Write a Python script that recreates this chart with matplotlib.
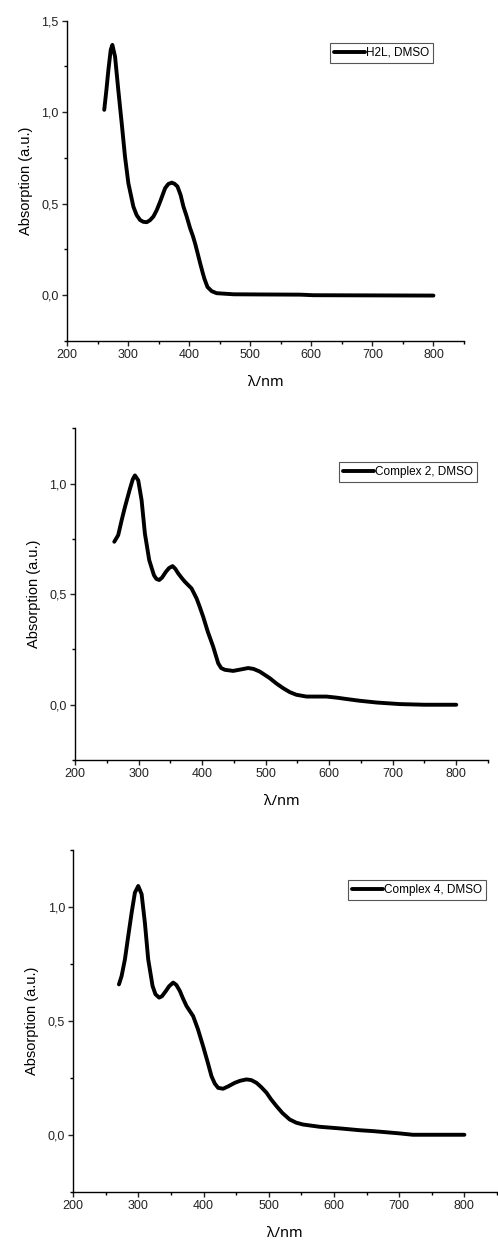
#   UV-Vis absorption spectra in DMSO
#   three stacked panels: H2L, complex 2, complex 4

import matplotlib
matplotlib.use('Agg')
from matplotlib import pyplot as plt
from matplotlib.ticker import MultipleLocator, FuncFormatter

#   Data (wavelength in nm, absorption in a.u.)
wl_h2l = [261, 264.5, 267.8, 271.6, 274.3, 278.7, 284, 289.6, 295, 300.5,
          308.7, 314, 319.7, 325, 330.6, 336, 341.5, 347, 352.5, 360.7, 366,
          371.6, 376, 380.9, 386, 390.7, 396, 401.6, 406, 410, 414, 418, 422,
          425, 430, 437, 445, 473, 520, 582, 603, 700, 800]
ab_h2l = [1.013, 1.12, 1.231, 1.34, 1.368, 1.304, 1.122, 0.94, 0.757, 0.612,
          0.484, 0.438, 0.411, 0.401, 0.399, 0.41, 0.43, 0.465, 0.511, 0.585,
          0.608, 0.615, 0.609, 0.594, 0.548, 0.484, 0.43, 0.366, 0.325, 0.28,
          0.228, 0.175, 0.125, 0.09, 0.045, 0.022, 0.011, 0.005, 0.004, 0.003,
          0.0, -0.001, -0.002]

wl_c2 = [261.8, 268, 273.4, 278.6, 286.5, 291, 294.3, 299.5, 304.8, 310,
         316.8, 324.2, 328, 332.5, 337, 343, 348, 353.6, 358, 362.4, 368, 373,
         383.4, 391.3, 396, 401.7, 409, 417.4, 425.3, 430, 435.8, 448.9, 460,
         472.5, 481, 490.8, 506.6, 517, 527.5, 538, 548.5, 564.3, 595.7, 612,
         627, 648, 675, 711, 750, 800]
ab_c2 = [0.737, 0.767, 0.834, 0.894, 0.977, 1.02, 1.037, 1.015, 0.925, 0.774,
         0.654, 0.586, 0.569, 0.564, 0.575, 0.601, 0.618, 0.627, 0.614, 0.594,
         0.573, 0.556, 0.526, 0.481, 0.445, 0.398, 0.33, 0.263, 0.188, 0.166,
         0.158, 0.153, 0.159, 0.166, 0.162, 0.15, 0.12, 0.096, 0.075, 0.057,
         0.045, 0.037, 0.037, 0.032, 0.026, 0.018, 0.01, 0.003, 0.0, 0.0]

wl_c4 = [270, 274.1, 279.2, 284.3, 289.5, 294.5, 299.6, 304.8, 309.8, 314.9,
         321.6, 326, 331.7, 336, 342, 347, 353.2, 358, 363.5, 368, 373.7,
         383.8, 391, 399.1, 406, 412, 417, 422.1, 429.8, 438, 447.7, 456,
         465.6, 473, 481, 488, 496.3, 503, 511.6, 521, 532, 542, 552.3, 578,
         608.6, 639, 660, 700.5, 721, 760, 800]
ab_c4 = [0.66, 0.697, 0.77, 0.873, 0.975, 1.063, 1.092, 1.056, 0.931, 0.77,
         0.653, 0.617, 0.602, 0.608, 0.631, 0.652, 0.668, 0.658, 0.631, 0.6,
         0.565, 0.521, 0.465, 0.389, 0.32, 0.257, 0.225, 0.206, 0.202, 0.213,
         0.228, 0.237, 0.243, 0.24, 0.228, 0.21, 0.185, 0.157, 0.126, 0.095,
         0.067, 0.053, 0.045, 0.035, 0.028, 0.02, 0.016, 0.006, 0.0, 0.0, 0.0]

labels = ['H2L, DMSO', 'Complex 2, DMSO', 'Complex 4, DMSO']
y_tops = [1.5, 1.25, 1.25]

#   Layout (figure fractions) and legend anchors
rects = [[0.1345, 0.7268, 0.7972, 0.2566],
         [0.1506, 0.3910, 0.8294, 0.2658],
         [0.1472, 0.0451, 0.8508, 0.2738]]
anchors = [(0.922, 0.931), (0.973, 0.898), (0.974, 0.912)]

plt.rcParams['font.family'] = ['Liberation Sans', 'DejaVu Sans']

def comma(v, pos):
    return ('%.1f' % v).replace('.', ',')

fig = plt.figure(figsize=(4.98, 12.48), dpi=100)

series = [(wl_h2l, ab_h2l), (wl_c2, ab_c2), (wl_c4, ab_c4)]
for i in range(3):
    ax = fig.add_axes(rects[i])
    x, y = series[i]
    ax.plot(x, y, color='black', lw=2.8, solid_joinstyle='round',
            solid_capstyle='round', label=labels[i])
    ax.set_xlim(200, 850)
    ax.set_ylim(-0.25, y_tops[i])
    ax.spines['top'].set_visible(False)
    ax.spines['right'].set_visible(False)
    for s in ['left', 'bottom']:
        ax.spines[s].set_linewidth(1.0)
    ax.xaxis.set_minor_locator(MultipleLocator(50))
    ax.yaxis.set_major_locator(MultipleLocator(0.5))
    ax.yaxis.set_minor_locator(MultipleLocator(0.25))
    ax.set_xticks([200, 300, 400, 500, 600, 700, 800])
    ax.yaxis.set_major_formatter(FuncFormatter(comma))
    ax.tick_params(which='major', direction='out', length=3.5, width=1.0,
                   labelsize=9, pad=2.5, colors='#222222')
    ax.tick_params(which='minor', direction='out', length=2.5, width=1.0)
    ax.set_xlabel('λ/nm', fontsize=10.5, labelpad=10,
                  family=['Noto Sans', 'DejaVu Sans'])
    ax.set_ylabel('Absorption (a.u.)', fontsize=10.5, labelpad=6)
    leg = ax.legend(loc='upper right', bbox_to_anchor=anchors[i],
                    borderaxespad=0, fontsize=8.5, handlelength=2.6,
                    handletextpad=0.1, borderpad=0.35, fancybox=False,
                    framealpha=1, edgecolor='#555555')
    leg.get_frame().set_linewidth(0.8)

fig.savefig('out.png', dpi=100)
